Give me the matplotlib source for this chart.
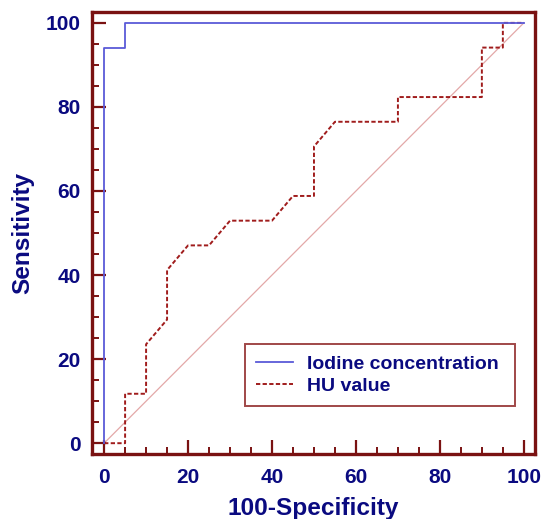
import numpy as np
import matplotlib.pyplot as plt
from matplotlib.ticker import MultipleLocator

# ROC curve points
iodine_fpr = [0, 0, 5, 5, 100]
iodine_tpr = [0, 94.12, 94.12, 100, 100]

hu_fpr = [0, 5, 5, 10, 10, 15, 15, 20, 25, 30, 40, 45, 50, 50, 55, 70, 70,
          90, 90, 95, 95, 100]
hu_tpr = [0, 0, 11.76, 11.76, 23.53, 29.41, 41.18, 47.06, 47.06, 52.94,
          52.94, 58.82, 58.82, 70.59, 76.47, 76.47, 82.35, 82.35, 94.12,
          94.12, 100, 100]

diag = [0, 100]
series_names = ["Iodine concentration", "HU value"]

navy = "#0a0a80"
maroon = "#7a1212"

plt.rcParams["font.family"] = ["Liberation Sans", "DejaVu Sans"]

fig = plt.figure(figsize=(5.44, 5.19), dpi=100)
ax = fig.add_axes([0.169, 0.125, 0.814, 0.852])

ax.plot(diag, diag, color="#e3a8a8", lw=0.9, zorder=1)
ax.plot(iodine_fpr, iodine_tpr, color="#5a5ad8", lw=1.3, label=series_names[0], zorder=3)
ax.plot(hu_fpr, hu_tpr, color="#a01c1c", lw=1.4, ls=(0, (2.2, 1.2)),
        label=series_names[1], zorder=2)

ax.set_xlim(-2.9, 102.6)
ax.set_ylim(-2.6, 102.6)

for side in ["left", "bottom", "right", "top"]:
    ax.spines[side].set_color(maroon)
    ax.spines[side].set_linewidth(2.4)

ax.xaxis.set_major_locator(MultipleLocator(20))
ax.xaxis.set_minor_locator(MultipleLocator(5))
ax.yaxis.set_major_locator(MultipleLocator(20))
ax.yaxis.set_minor_locator(MultipleLocator(5))
ax.tick_params(which="major", direction="in", length=10, width=1.6, color=maroon,
               labelsize=15, labelcolor=navy)
ax.tick_params(which="minor", direction="in", length=5, width=1.4, color=maroon)
ax.tick_params(axis="x", which="major", pad=10)
ax.tick_params(axis="y", which="major", pad=8)
for lab in ax.get_xticklabels() + ax.get_yticklabels():
    lab.set_fontweight("bold")

ax.set_xlabel("100-Specificity", fontsize=17.6, fontweight="bold", color=navy, labelpad=7)
ax.set_ylabel("Sensitivity", fontsize=17.6, fontweight="bold", color=navy, labelpad=8)

leg = ax.legend(loc="center", bbox_to_anchor=(0.3455, 0.179, 0.61, 0), mode="expand",
                borderaxespad=0, fancybox=False, framealpha=1, edgecolor="#a04848",
                handlelength=1.9, handletextpad=0.72,
                prop={"size": 14, "weight": "bold"}, borderpad=0.55, labelspacing=0.25)
leg.get_frame().set_linewidth(1.4)
for t in leg.get_texts():
    t.set_color(navy)

fig.savefig("out.png", dpi=100)
